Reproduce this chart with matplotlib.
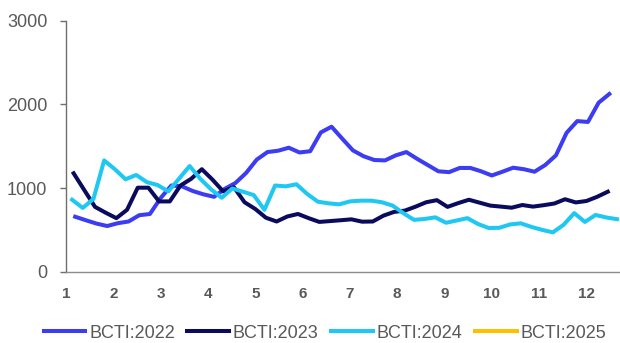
import numpy as np
import pandas as pd
import matplotlib
matplotlib.use("Agg")
import matplotlib.pyplot as plt

plt.rcParams['font.family'] = ['Liberation Sans', 'DejaVu Sans']

# Weekly BCTI readings; each series starts on its first Friday of the year
series_names = ["BCTI:2022", "BCTI:2023", "BCTI:2024", "BCTI:2025"]
start_dates = ["2022-01-07", "2023-01-06", "2024-01-05", "2025-01-03"]
colors = ["#3c3cf2", "#0b0b5e", "#1ec8f2", "#ffc000"]

bcti_2022 = [657, 615, 575, 546, 580, 600, 675, 690, 880, 1030,
             1020, 965, 925, 895, 990, 1060, 1180, 1340, 1430, 1446,
             1482, 1425, 1440, 1665, 1733, 1590, 1450, 1380, 1335, 1330,
             1390, 1430, 1350, 1275, 1200, 1190, 1240, 1240, 1200, 1150,
             1195, 1243, 1225, 1195, 1275, 1390, 1660, 1800, 1790, 2020,
             2124]
bcti_2023 = [1176, 975, 775, 705, 640, 740, 1004, 1004, 840, 840,
             1030, 1110, 1225, 1100, 960, 1010, 830, 750, 645, 600,
             660, 690, 640, 595, 605, 615, 626, 598, 600, 670,
             715, 730, 777, 830, 855, 775, 820, 860, 825, 790,
             778, 765, 797, 778, 795, 815, 866, 828, 845, 895,
             956]
bcti_2024 = [860, 762, 870, 1330, 1225, 1105, 1156, 1070, 1036, 960,
             1110, 1263, 1110, 985, 884, 995, 956, 916, 740, 1030,
             1020, 1045, 930, 837, 817, 805, 840, 849, 849, 830,
             790, 700, 620, 630, 650, 585, 612, 640, 570, 522,
             525, 565, 578, 535, 500, 470, 560, 700, 595, 678,
             648, 628]
bcti_2025 = []

all_values = [bcti_2022, bcti_2023, bcti_2024, bcti_2025]

month_labels = [str(m) for m in range(1, 13)]
y_ticks = [0, 1000, 2000, 3000]

fig = plt.figure(figsize=(6.2, 3.43), dpi=100)
ax = fig.add_axes([66 / 620, (343 - 271.7) / 343, 1 - 66 / 620, 251 / 343])

for name, start, vals, col in zip(series_names, start_dates, all_values, colors):
    dates = pd.date_range(start, periods=len(vals), freq="7D")
    day = (dates - pd.Timestamp(start[:4] + "-01-01")).days
    ax.plot(day, vals, color=col, lw=2.9, label=name, solid_joinstyle="round")

ax.set_ylim(0, 3000)
ax.set_xlim(0, 363)
ax.set_yticks(y_ticks)
ax.set_yticklabels([str(v) for v in y_ticks])
ax.set_xticks(np.arange(12) * 31)
ax.set_xticklabels(month_labels)

for side in ("top", "right"):
    ax.spines[side].set_visible(False)
ax.spines["left"].set_color("#6e6e6e")
ax.spines["bottom"].set_color("#8c8c8c")
ax.spines["left"].set_linewidth(1.0)
ax.spines["bottom"].set_linewidth(1.0)

ax.tick_params(axis="y", length=4.5, width=1.0, color="#6e6e6e", pad=9,
               labelsize=13, labelcolor="#595959")
ax.tick_params(axis="x", length=0, pad=11, labelsize=11, labelcolor="#595959")
for lbl in ax.get_xticklabels():
    lbl.set_fontweight("bold")

leg = fig.legend(loc="center", bbox_to_anchor=(325 / 620, 1 - 333 / 343), ncol=4,
                 frameon=False, fontsize=13, handlelength=2.3,
                 handletextpad=0.22, columnspacing=0.7)
for txt in leg.get_texts():
    txt.set_color("#595959")

fig.savefig("out.png", dpi=100)
